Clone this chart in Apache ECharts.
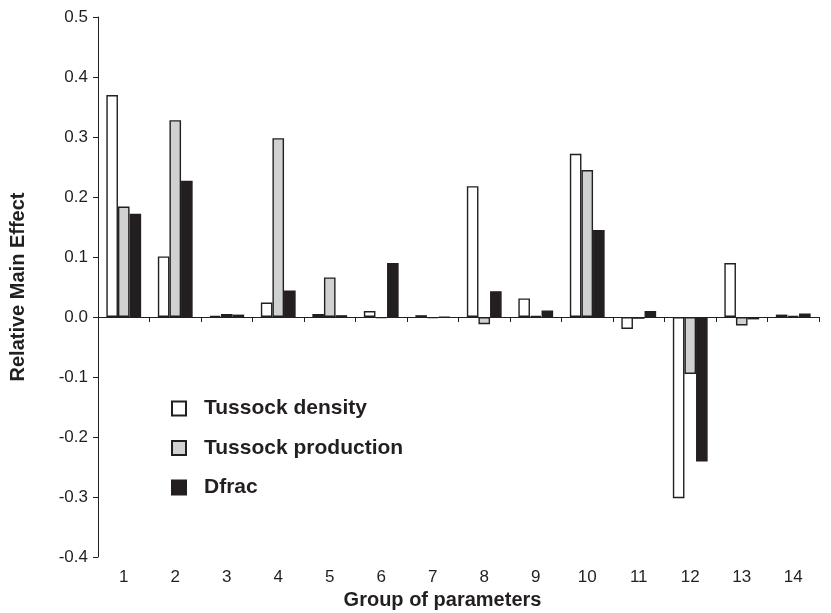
<!DOCTYPE html>
<html>
<head>
<meta charset="utf-8">
<script src="https://cdn.jsdelivr.net/npm/echarts@6/dist/echarts.min.js"></script>
<style>html,body{margin:0;padding:0;background:#fff;}#c{width:831px;height:613px;}</style>
</head>
<body>
<div id="c"></div>
<script>
const categories = ['1','2','3','4','5','6','7','8','9','10','11','12','13','14'];
const tussockDensity    = [0.370, 0.101, 0.002, 0.024, 0.005, 0.010, 0.003, 0.218, 0.031, 0.272, -0.020, -0.302, 0.090, 0.004];
const tussockProduction = [0.184, 0.328, 0.005, 0.298, 0.066, -0.002, -0.002, -0.012, 0.002, 0.245, -0.003, -0.095, -0.014, 0.002];
const dfrac             = [0.172, 0.227, 0.004, 0.044, 0.003, 0.090, -0.001, 0.043, 0.011, 0.145, 0.010, -0.241, -0.004, 0.006];
const seriesNames = ['Tussock density', 'Tussock production', 'Dfrac'];

const FONT = 'Liberation Sans, Arial, sans-serif';
const chart = echarts.init(document.getElementById('c'), null, {renderer: 'canvas'});
const border = '#231f20';
function bar(name, data, color) {
  return {
    name: name, type: 'bar', data: data, barWidth: 11.6, barGap: '0%',
    itemStyle: {color: color, borderColor: border, borderWidth: 1.4},
    emphasis: {disabled: true}
  };
}
chart.setOption({
  animation: false,
  grid: {left: 98, right: 12, top: 17, bottom: 56, containLabel: false, outerBoundsMode: 'none'},
  legend: {
    orient: 'vertical', left: 166, top: 393, itemGap: 18.5,
    itemWidth: 14, itemHeight: 14, icon: 'rect',
    textStyle: {fontFamily: FONT, fontWeight: 'bold', fontSize: 21, color: '#231f20', padding: [0,0,0,13]},
    data: seriesNames
  },
  xAxis: {
    type: 'category', data: categories, boundaryGap: true,
    axisLine: {onZero: true, lineStyle: {color: '#231f20', width: 1}},
    axisTick: {show: true, length: 5, lineStyle: {color: '#231f20'}},
    axisLabel: {margin: 12, fontFamily: FONT, fontSize: 17, color: '#231f20'},
    name: 'Group of parameters', nameLocation: 'middle', nameGap: 33,
    nameTextStyle: {fontFamily: FONT, fontWeight: 'bold', fontSize: 20, color: '#231f20', padding: [0, 32, 0, 0]},
    splitLine: {show: false}
  },
  yAxis: {
    type: 'value', min: -0.4, max: 0.5, interval: 0.1,
    axisLine: {show: true, lineStyle: {color: '#231f20', width: 1}},
    axisTick: {show: true, length: 5, lineStyle: {color: '#231f20'}},
    axisLabel: {margin: 10, fontFamily: FONT, fontSize: 17, color: '#231f20',
      formatter: v => v.toFixed(1)},
    splitLine: {show: false},
    name: 'Relative Main Effect', nameLocation: 'middle', nameGap: 70, nameRotate: 90,
    nameTextStyle: {fontFamily: FONT, fontWeight: 'bold', fontSize: 20, color: '#231f20'}
  },
  series: [
    bar(seriesNames[0], tussockDensity, '#ffffff'),
    bar(seriesNames[1], tussockProduction, '#cfd1d3'),
    bar(seriesNames[2], dfrac, '#231f20')
  ]
});
</script>
</body>
</html>
